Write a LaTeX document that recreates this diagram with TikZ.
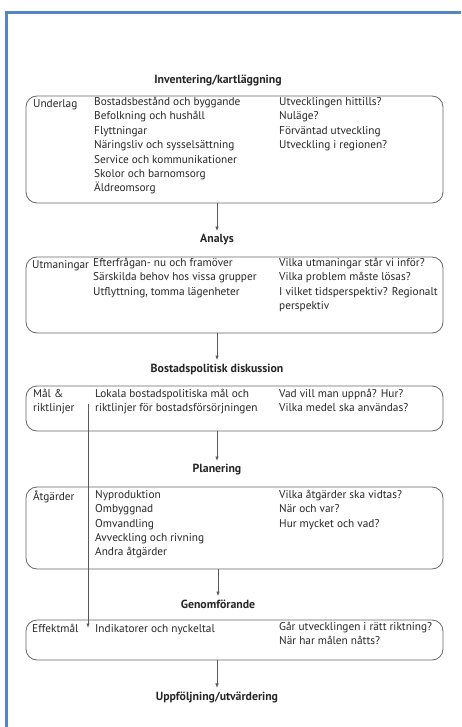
\documentclass[tikz,border=0pt]{standalone}
\usepackage{fontspec}
\setmainfont{PT Sans}
\usetikzlibrary{positioning,arrows.meta}
\definecolor{framblue}{RGB}{84,134,196}

\begin{document}
\begin{tikzpicture}[x=1pt, y=-1pt,
  frame/.style={draw=black!60, rounded corners=11pt, line width=0.8pt,
                minimum width=417pt, inner sep=0pt},
  ttl/.style={font=\bfseries\fontsize{11.8}{14}\selectfont, text=black!85},
  txt/.style={anchor=north west, align=left, inner sep=0pt,
              font=\fontsize{11.3}{14.4}\selectfont, text=black!85,
              execute at begin node=\strut},
  arr/.style={draw=black!65, line width=0.8pt, -{Latex[length=4.5pt,width=3.5pt]}}
]
\useasboundingbox (0,0) rectangle (461,727);
\draw[framblue, line width=2.2pt] (461,12.5) -- (6.5,12.5) -- (6.5,727);

% titles
\node[ttl] (inv) at (218,80) {Inventering/kartläggning};
\node[ttl] (ana) at (217,240) {Analys};
\node[ttl] (bos) at (217,369) {Bostadspolitisk diskussion};
\node[ttl] (pla) at (217,470) {Planering};
\node[ttl] (gen) at (218,604) {Genomförande};
\node[ttl] (upp) at (217,697) {Uppföljning/utvärdering};

% boxes
\node[frame, minimum height=107pt] (underlag) at (234.5,149.5) {};
\node[frame, minimum height=76pt] (utman) at (234.5,295) {};
\node[frame, minimum height=45pt] (mal) at (234.5,408.5) {};
\node[frame, minimum height=82pt] (atg) at (234.5,528) {};
\node[frame, minimum height=40pt] (eff) at (234.5,640) {};

% Inventering
\node[txt] (underlagA) at (33,97) {Underlag};
\node[txt] (underlagB) at (94,97) {Bostadsbestånd och byggande\\Befolkning och hushåll\\Flyttningar\\Näringsliv och sysselsättning\\Service och kommunikationer\\Skolor och barnomsorg\\Äldreomsorg};
\node[txt] (underlagC) at (279,97) {Utvecklingen hittills?\\Nuläge?\\Förväntad utveckling\\Utveckling i regionen?};

% Analys
\node[txt] (utmanA) at (32,258) {Utmaningar};
\node[txt] (utmanB) at (93,258) {Efterfrågan- nu och framöver\\Särskilda behov hos vissa grupper\\Utflyttning, tomma lägenheter};
\node[txt] (utmanC) at (279,258) {Vilka utmaningar står vi inför?\\Vilka problem måste lösas?\\I vilket tidsperspektiv? Regionalt\\perspektiv};

% Bostadspolitisk diskussion
\node[txt] (malA) at (33,389) {Mål \&\\riktlinjer};
\node[txt] (malB) at (95,389) {Lokala bostadspolitiska mål och\\riktlinjer för bostadsförsörjningen};
\node[txt] (malC) at (279,389) {Vad vill man uppnå? Hur?\\Vilka medel ska användas?};

% Planering
\node[txt] (atgA) at (33,490) {Åtgärder};
\node[txt] (atgB) at (95,490) {Nyproduktion\\Ombyggnad\\Omvandling\\Avveckling och rivning\\Andra åtgärder};
\node[txt] (atgC) at (279,490) {Vilka åtgärder ska vidtas?\\När och var?\\Hur mycket och vad?};

% Genomforande
\node[txt] (effA) at (32,622) {Effektmål};
\node[txt] (effB) at (95,622) {Indikatorer och nyckeltal};
\node[txt] (effC) at (279,622) {Går utvecklingen i rätt riktning?\\När har målen nåtts?};

% arrows
\draw[arr] (underlag.south -| ana.north) -- (ana.north);
\draw[arr] (utman.south -| bos.north) -- (bos.north);
\draw[arr] (mal.south -| pla.north) -- (pla.north);
\draw[arr] (atg.south -| gen.north) -- (gen.north);
\draw[arr] (eff.south -| upp.north) -- (upp.north);

\coordinate (malstart) at (88,404);
\coordinate (malend) at (88,628);
\draw[arr] (malstart) -- (malend);
\end{tikzpicture}
\end{document}
